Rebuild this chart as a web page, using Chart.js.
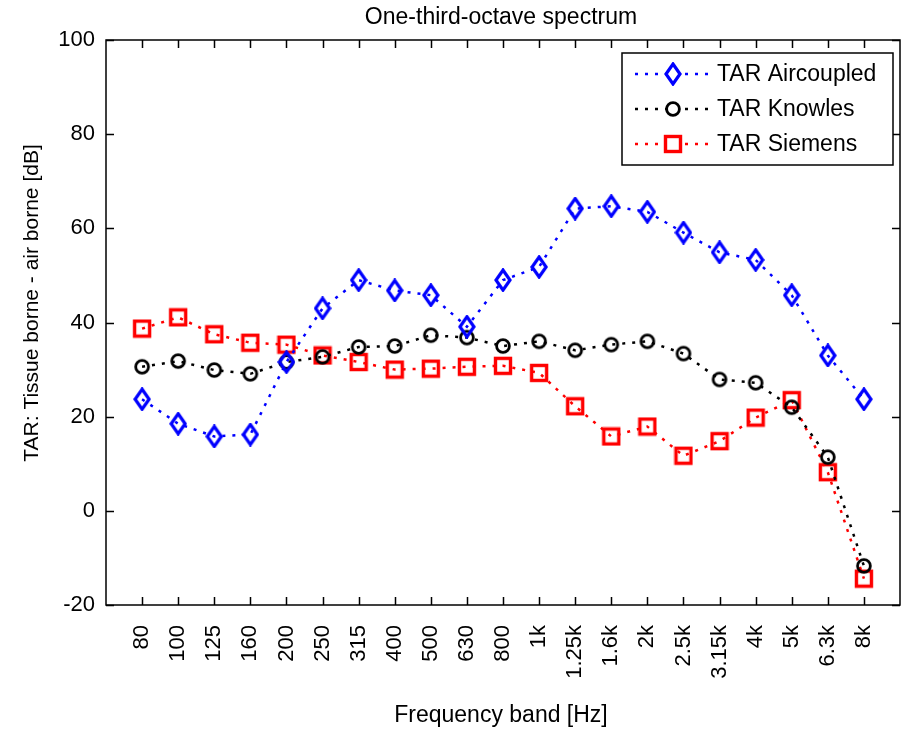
<!DOCTYPE html>
<html>
<head>
<meta charset="utf-8">
<title>One-third-octave spectrum</title>
<script src="https://cdn.jsdelivr.net/npm/chart.js@4.4.1/dist/chart.umd.min.js"></script>
<style>
    html, body { margin: 0; padding: 0; background: #fff; }
    canvas { display: block; }
</style>
</head>
<body>
<canvas id="spectrumChart" width="907" height="729"></canvas>
<script>
// One-third-octave band labels
var bandLabels = ["80", "100", "125", "160", "200", "250", "315", "400", "500", "630", "800",
    "1k", "1.25k", "1.6k", "2k", "2.5k", "3.15k", "4k", "5k", "6.3k", "8k"];

// TAR values (dB)
var aircoupled = [23.7, 18.5, 15.8, 16.2, 31.6, 43.0, 49.0, 46.8, 45.8, 39.1, 49.0,
    51.8, 64.2, 64.7, 63.5, 59.1, 54.9, 53.3, 45.8, 33.0, 23.7];
var knowles = [30.6, 31.8, 29.9, 29.1, 31.6, 32.7, 34.8, 35.0, 37.3, 36.8, 35.0,
    36.0, 34.1, 35.3, 36.0, 33.4, 27.9, 27.2, 22.0, 11.4, -11.7];
var siemens = [38.7, 41.1, 37.5, 35.7, 35.3, 33.0, 31.6, 30.0, 30.2, 30.6, 30.8,
    29.3, 22.2, 15.8, 17.9, 11.7, 14.8, 19.8, 23.5, 8.2, -14.4];

var seriesNames = ["TAR Aircoupled", "TAR Knowles", "TAR Siemens"];
var yTicks = [-20, 0, 20, 40, 60, 80, 100];

var FONT = '"Liberation Sans", Arial, sans-serif';

// hollow MATLAB-like markers drawn on small canvases
function makeMarker(kind, color) {
    var c = document.createElement("canvas");
    var ctx;
    if (kind === "diamond") {
        c.width = 18; c.height = 24;
        ctx = c.getContext("2d");
        ctx.strokeStyle = color; ctx.lineWidth = 3.2;
        ctx.beginPath();
        ctx.moveTo(9, 2); ctx.lineTo(16, 12); ctx.lineTo(9, 22); ctx.lineTo(2, 12);
        ctx.closePath(); ctx.stroke();
    } else if (kind === "circle") {
        c.width = 18; c.height = 18;
        ctx = c.getContext("2d");
        ctx.strokeStyle = color; ctx.lineWidth = 2.8;
        ctx.beginPath(); ctx.arc(9, 9, 6.4, 0, Math.PI * 2); ctx.stroke();
    } else {
        c.width = 20; c.height = 20;
        ctx = c.getContext("2d");
        ctx.strokeStyle = color; ctx.lineWidth = 3.4;
        ctx.strokeRect(2.5, 2.5, 15, 15);
    }
    return c;
}

function toPoints(values) {
    return values.map(function (v, i) { return { x: i + 1, y: v }; });
}

function makeDataset(label, values, color, marker) {
    return {
        label: label,
        data: toPoints(values),
        borderColor: color,
        backgroundColor: color,
        borderWidth: 2.5,
        borderDash: [3, 7],
        borderCapStyle: "butt",
        tension: 0,
        fill: false,
        clip: false,
        pointStyle: makeMarker(marker, color),
        // image markers ignore the radius; keep it small so it adds no layout padding
        pointRadius: 1,
        pointBorderWidth: 0,
        pointHoverRadius: 1
    };
}

// axes box, inward ticks, titles and legend like the MATLAB figure
var matlabFrame = {
    id: "matlabFrame",
    beforeDatasetsDraw: function (chart) {
        var ctx = chart.ctx, a = chart.chartArea;
        var xs = chart.scales.x, ys = chart.scales.y;
        ctx.save();
        ctx.strokeStyle = "#000";
        ctx.lineWidth = 1.5;
        ctx.setLineDash([]);
        ctx.strokeRect(a.left, a.top, a.right - a.left, a.bottom - a.top);
        ctx.beginPath();
        xs.ticks.forEach(function (t) {
            var px = Math.round(xs.getPixelForValue(t.value)) + 0.5;
            ctx.moveTo(px, a.bottom); ctx.lineTo(px, a.bottom - 8);
            ctx.moveTo(px, a.top); ctx.lineTo(px, a.top + 8);
        });
        ys.ticks.forEach(function (t) {
            var py = Math.round(ys.getPixelForValue(t.value)) + 0.5;
            ctx.moveTo(a.left, py); ctx.lineTo(a.left + 8, py);
            ctx.moveTo(a.right, py); ctx.lineTo(a.right - 8, py);
        });
        ctx.stroke();
        ctx.restore();
    },
    afterDraw: function (chart) {
        var ctx = chart.ctx, a = chart.chartArea;
        var cx = (a.left + a.right) / 2;
        ctx.save();
        ctx.fillStyle = "#000";
        ctx.textAlign = "center";
        ctx.textBaseline = "alphabetic";

        ctx.font = "23px " + FONT;
        ctx.fillText("One-third-octave spectrum", cx - 2, 24);
        ctx.fillText("Frequency band [Hz]", cx - 2, 722);

        ctx.save();
        ctx.translate(38, 303);
        ctx.rotate(-Math.PI / 2);
        ctx.font = "21px " + FONT;
        ctx.fillText("TAR: Tissue borne - air borne [dB]", 0, 0);
        ctx.restore();

        // legend, anchored to the top-right corner of the axes
        var lw = 271, lh = 112;
        var lx = a.right - 7 - lw, ly = a.top + 13;
        ctx.fillStyle = "#fff";
        ctx.fillRect(lx, ly, lw, lh);
        ctx.strokeStyle = "#000";
        ctx.lineWidth = 1.5;
        ctx.strokeRect(lx, ly, lw, lh);
        ctx.font = "23px " + FONT;
        ctx.textAlign = "left";
        ctx.textBaseline = "middle";
        chart.data.datasets.forEach(function (ds, i) {
            var rowY = ly + 21 + i * 35;
            ctx.strokeStyle = ds.borderColor;
            ctx.lineWidth = ds.borderWidth;
            ctx.setLineDash(ds.borderDash);
            ctx.beginPath();
            ctx.moveTo(lx + 13, rowY); ctx.lineTo(lx + 90, rowY);
            ctx.stroke();
            ctx.setLineDash([]);
            var m = ds.pointStyle;
            ctx.fillStyle = "#fff";
            ctx.fillRect(lx + 51 - m.width / 2 + 3, rowY - m.height / 2 + 3, m.width - 6, m.height - 6);
            ctx.drawImage(m, lx + 51 - m.width / 2, rowY - m.height / 2);
            ctx.fillStyle = "#000";
            ctx.fillText(ds.label, lx + 95, rowY + 1);
        });
        ctx.restore();
    }
};

var ctx = document.getElementById("spectrumChart").getContext("2d");
var spectrumChart = new Chart(ctx, {
    type: "line",
    data: {
        datasets: [
            makeDataset(seriesNames[0], aircoupled, "#0000ff", "diamond"),
            makeDataset(seriesNames[1], knowles, "#000000", "circle"),
            makeDataset(seriesNames[2], siemens, "#ff0000", "square")
        ]
    },
    options: {
        responsive: false,
        animation: false,
        devicePixelRatio: 1,
        layout: { padding: { left: 0, right: 7, top: 40, bottom: 0 } },
        plugins: {
            legend: { display: false },
            title: { display: false },
            tooltip: { enabled: false }
        },
        scales: {
            x: {
                type: "linear",
                min: 0,
                max: bandLabels.length + 1,
                grid: { display: false, drawTicks: false },
                border: { display: false },
                afterBuildTicks: function (scale) {
                    scale.ticks = bandLabels.map(function (_, i) { return { value: i + 1 }; });
                },
                afterFit: function (scale) {
                    scale.height = 124;
                    scale.paddingLeft = 0;
                    scale.paddingRight = 0;
                },
                ticks: {
                    autoSkip: false,
                    minRotation: 90,
                    maxRotation: 90,
                    padding: 20,
                    color: "#000",
                    font: { family: FONT, size: 22 },
                    callback: function (value, index) { return bandLabels[index]; }
                }
            },
            y: {
                min: yTicks[0],
                max: yTicks[yTicks.length - 1],
                grid: { display: false, drawTicks: false },
                border: { display: false },
                afterBuildTicks: function (scale) {
                    scale.ticks = yTicks.map(function (v) { return { value: v }; });
                },
                afterFit: function (scale) {
                    scale.width = 106;
                    scale.paddingTop = 0;
                    scale.paddingBottom = 0;
                },
                ticks: {
                    padding: 11,
                    color: "#000",
                    font: { family: FONT, size: 22 }
                }
            }
        }
    },
    plugins: [matlabFrame]
});
</script>
</body>
</html>
